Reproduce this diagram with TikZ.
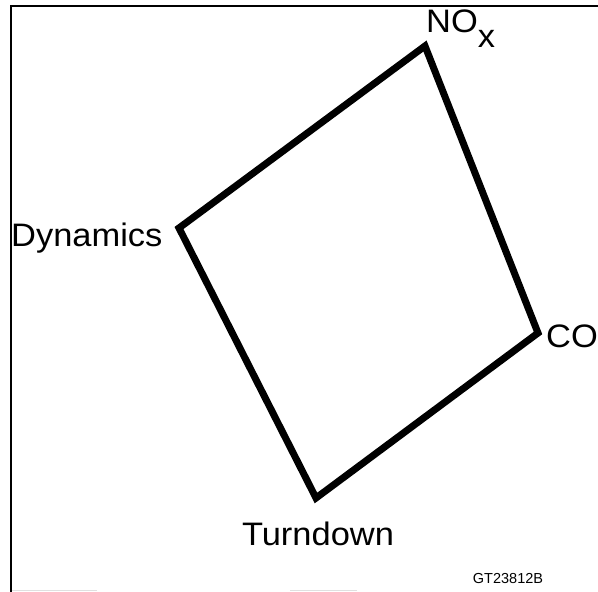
\documentclass[tikz,border=0pt]{standalone}
\usepackage{fontspec}
\setmainfont{Liberation Sans}
\newfontfamily\lblfont[FakeStretch=1.06]{Liberation Sans}
\begin{document}
\begin{tikzpicture}[x=1pt,y=-1pt,
  frameline/.style={line width=2pt,black},
  scanline/.style={line width=1pt,black!12},
  chart/.style={line width=7pt,black,line join=miter},
  axislabel/.style={inner sep=0pt,font=\lblfont\fontsize{32.5}{38}\selectfont},
  tag/.style={inner sep=0pt,font=\fontsize{14.5}{17}\selectfont}]
\useasboundingbox (0,0) rectangle (598,592);
% page frame (left and top edges)
\coordinate (fbl) at (11,592);
\coordinate (ftl) at (11,6);
\coordinate (ftr) at (598,6);
\draw[frameline] (fbl) -- (ftl) -- (ftr);
\coordinate (s1a) at (12,590.5);
\coordinate (s1b) at (97,590.5);
\coordinate (s2a) at (290,590.5);
\coordinate (s2b) at (357,590.5);
\draw[scanline] (s1a) -- (s1b);
\draw[scanline] (s2a) -- (s2b);
% corners of the quadrilateral
\coordinate (nox) at (425,46);
\coordinate (co) at (538,333);
\coordinate (turn) at (316,498);
\coordinate (dyn) at (179,228);
\draw[chart] (nox) -- (co) -- (turn) -- (dyn) -- cycle;
% corner labels
\node[axislabel,anchor=base west] (noxlbl) at (426,32) {NO\raisebox{-15pt}{x}};
\node[axislabel,anchor=base west] (colbl) at (546,347) {CO};
\node[axislabel,anchor=base west] (dynlbl) at (11,246) {Dynamics};
\node[axislabel,anchor=base] (turnlbl) at (318,545) {Turndown};
\node[tag,anchor=base] (figtag) at (508,583) {GT23812B};
\end{tikzpicture}
\end{document}
